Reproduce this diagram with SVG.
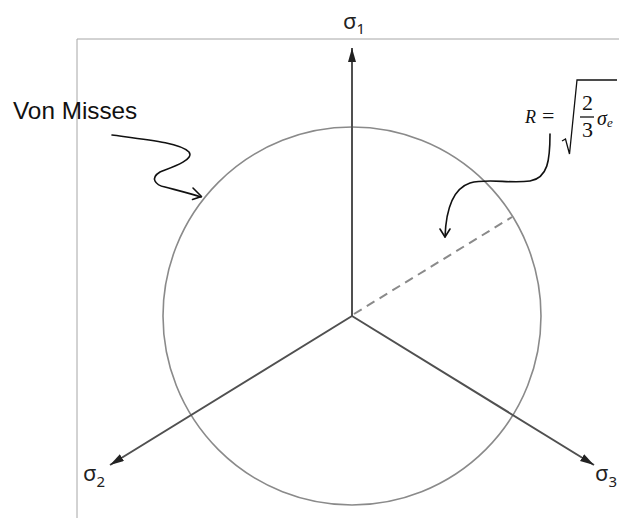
<svg xmlns="http://www.w3.org/2000/svg" width="619" height="518" viewBox="0 0 619 518">
<style>
.frame{fill:none;stroke:#a6a6a6;stroke-width:1}
.axis{fill:none;stroke:#505050;stroke-width:2}
.circ{fill:none;stroke:#8a8a8a;stroke-width:1.6}
.dash{fill:none;stroke:#8a8a8a;stroke-width:2;stroke-dasharray:9,6}
.curl{fill:none;stroke:#111;stroke-width:1.6;stroke-linecap:round;stroke-linejoin:round}
.sig{font-family:"Noto Sans","DejaVu Sans",sans-serif;font-size:22px;fill:#222}
.sub{font-size:15px}
.lbl{font-family:"Liberation Sans",Arial,sans-serif;font-size:24.3px;fill:#111}
.math{font-family:"Liberation Serif","Times New Roman",serif;fill:#111}
</style>
<defs>
<marker id="arr" markerUnits="userSpaceOnUse" markerWidth="15" markerHeight="9" refX="14" refY="4" orient="auto">
<path d="M0,0 L14,4 L0,8 Z" fill="#222"/>
</marker>
</defs>
<g id="frame">
<path class="frame" d="M77,518 V39 H619"/>
</g>
<g id="circle">
<circle class="circ" cx="352" cy="316" r="189"/>
</g>
<g id="connectors">
<line class="axis" x1="352" y1="316" x2="352" y2="48" marker-end="url(#arr)"/>
<line class="axis" x1="352" y1="316" x2="110" y2="465" marker-end="url(#arr)"/>
<line class="axis" x1="352" y1="316" x2="594" y2="465" marker-end="url(#arr)"/>
<line class="dash" x1="354" y1="314" x2="512" y2="217"/>
<path class="curl" d="M112,135 C150,140 180,143 189,152 C195,160 170,168 160,172 C150,178 155,185 165,187 C180,191 192,194 201,197"/>
<path class="curl" d="M193,188 L201.5,196.5 L192.5,199.5"/>
<path class="curl" d="M550,134 C550,160 548,178 530,181 C510,184 488,178 470,183 C452,189 446,210 445,237"/>
<path class="curl" d="M440,229 L445,237 L450,229"/>
</g>
<g id="sigma1"><text class="sig" x="343" y="29">σ<tspan class="sub" dy="5">1</tspan></text></g>
<g id="sigma2"><text class="sig" x="83" y="481">σ<tspan class="sub" dy="6">2</tspan></text></g>
<g id="sigma3"><text class="sig" x="595" y="481">σ<tspan class="sub" dy="6">3</tspan></text></g>
<g id="vonmisses"><text class="lbl" x="13" y="119">Von Misses</text></g>
<g id="formula">
<text class="math" x="525" y="123" font-size="18" font-style="italic">R</text>
<text class="math" x="542" y="123" font-size="22">=</text>
<path d="M562,141 L565.5,139 L569.5,154 L577,80 H617" fill="none" stroke="#111" stroke-width="1.3"/>
<text class="math" x="582" y="110" font-size="22">2</text>
<line x1="580" y1="117" x2="594" y2="117" stroke="#111" stroke-width="1.3"/>
<text class="math" x="582" y="137" font-size="22">3</text>
<text class="math" x="597" y="125" font-size="20" font-style="italic">σ<tspan font-size="13" dy="2">e</tspan></text>
</g>
</svg>
